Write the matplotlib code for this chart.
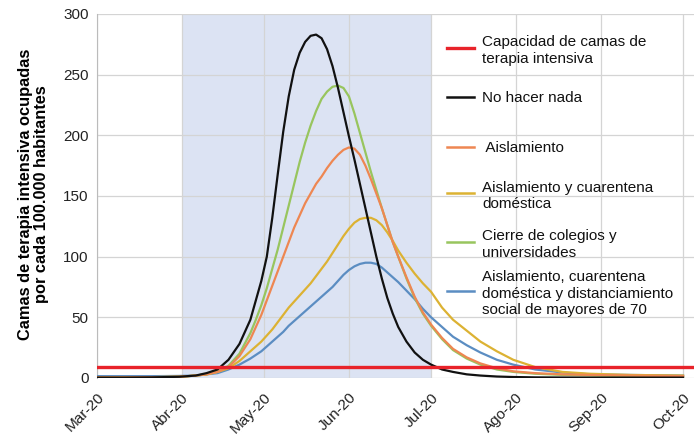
import pandas as pd
import matplotlib.pyplot as plt

plt.rcParams['font.family'] = ['Liberation Sans', 'DejaVu Sans']

# days after 1 March 2020
days = [0, 10, 20, 30, 36, 40, 44, 48, 52, 56, 58, 60, 62, 64, 66, 68, 70, 72, 74, 76,
        78, 80, 82, 84, 86, 88, 90, 92, 94, 96, 98, 100, 102, 104, 106, 108, 110, 113, 116, 119,
        122, 126, 130, 135, 140, 146, 152, 160, 170, 180, 195, 214]

no_hacer_nada = [0.3, 0.3, 0.5, 1, 2, 4, 7, 15, 28, 48, 64, 80, 100, 132, 168, 203, 232, 254, 268, 277,
                 282, 283, 280, 271, 257, 239, 219, 199, 180, 160, 140, 120, 100, 82, 66, 53, 42, 30, 21, 15,
                 11, 7, 5, 3, 2, 1.2, 0.8, 0.5, 0.4, 0.3, 0.3, 0.3]
aislamiento = [0.5, 0.5, 0.7, 1, 2, 3, 5, 9, 18, 32, 42, 52, 64, 76, 88, 100, 112, 124, 134, 144,
               152, 160, 166, 173, 179, 184, 188, 190, 189, 184, 175, 164, 152, 140, 126, 112, 100, 83, 67, 54,
               44, 33, 24, 17, 12, 8, 5.5, 4, 3, 2.5, 2, 1.5]
cuarentena = [0.5, 0.5, 0.7, 1, 2, 3, 5, 8, 14, 22, 26, 30, 35, 40, 46, 52, 58, 63, 68, 73,
              78, 84, 90, 96, 103, 110, 117, 123, 128, 131, 132, 132, 130, 126, 120, 113, 105, 95, 86, 78,
              71, 58, 48, 39, 30, 22, 15, 9, 5, 3.5, 2.5, 2]
cierre_colegios = [0.5, 0.5, 0.7, 1, 2, 3, 5, 10, 20, 37, 48, 60, 74, 90, 106, 124, 142, 160, 178, 194,
                   208, 220, 230, 236, 240, 241, 239, 232, 218, 202, 186, 170, 155, 140, 126, 112, 100, 82, 66, 53,
                   43, 32, 23, 16, 11, 7, 5, 3.5, 2.5, 2, 1.5, 1]
distanciamiento = [1.5, 1.5, 1.5, 1.7, 2, 3, 4, 7, 11, 16, 19, 22, 26, 30, 34, 38, 43, 47, 51, 55,
                   59, 63, 67, 71, 75, 80, 85, 89, 92, 94, 95, 95, 94, 91, 87, 83, 79, 72, 65, 57,
                   50, 42, 34, 27, 21, 15, 11, 7, 4.5, 3, 2.5, 2]
capacidad = 9

month_labels = ['Mar-20', 'Abr-20', 'May-20', 'Jun-20', 'Jul-20', 'Ago-20', 'Sep-20', 'Oct-20']
month_starts = pd.date_range('2020-03-01', '2020-10-01', freq='MS')

dates = pd.Timestamp('2020-03-01') + pd.to_timedelta(days, unit='D')

series = [
    ('Capacidad de camas de\nterapia intensiva', None, '#e8232a'),
    ('No hacer nada', no_hacer_nada, '#111111'),
    (' Aislamiento', aislamiento, '#ee8752'),
    ('Aislamiento y cuarentena\ndoméstica', cuarentena, '#dcb233'),
    ('Cierre de colegios y\nuniversidades', cierre_colegios, '#98c55e'),
    ('Aislamiento, cuarentena\ndoméstica y distanciamiento\nsocial de mayores de 70', distanciamiento, '#5b8dc2'),
]

fig = plt.figure(figsize=(6.94, 4.45), dpi=100)
ax = fig.add_axes([0.1398, 0.1506, 0.8602, 0.818])

ax.axvspan(pd.Timestamp('2020-04-01'), pd.Timestamp('2020-07-01'), color='#dce3f3', zorder=0, lw=0)

ax.axhline(capacidad, color='#e8232a', lw=2.4, zorder=5)
for label, vals, col in series[1:][::-1]:
    ax.plot(dates, vals, color=col, lw=1.6, zorder=3)

# a few spare days on the right so the last tick label fits
ax.set_xlim(pd.Timestamp('2020-03-01'), pd.Timestamp('2020-10-05'))
ax.set_ylim(0, 300)
ax.set_yticks([0, 50, 100, 150, 200, 250, 300])
ax.set_xticks(month_starts)
ax.set_xticklabels(month_labels, rotation=45, ha='right', rotation_mode='anchor')

ax.grid(True, color='#d4d4d4', lw=0.9)
ax.set_axisbelow(True)
ax.tick_params(axis='both', length=0, labelsize=11, colors='#222222')
ax.tick_params(axis='y', pad=6)
ax.tick_params(axis='x', pad=9)
for s in ['top', 'right', 'bottom']:
    ax.spines[s].set_visible(False)
ax.spines['left'].set_color('#bbbbbb')

ax.set_ylabel('Camas de terapia intensiva ocupadas\npor cada 100.000 habitantes',
              fontsize=11.8, fontweight='bold', linespacing=1.1)
ax.yaxis.set_label_coords(-0.08, 0.505)

# legend, drawn by hand so the handle sits on the first text line
leg_y = [0.907, 0.772, 0.635, 0.508, 0.374, 0.239]
for (label, vals, col), y in zip(series, leg_y):
    ax.plot([0.586, 0.632], [y, y], color=col, lw=2.4 if vals is None else 1.8,
            transform=ax.transAxes, zorder=6)
    ax.text(0.645, y, label, transform=ax.transAxes, fontsize=11, va='center_baseline',
            ha='left', color='#111111', linespacing=1.2, zorder=6)

fig.savefig('out.png', dpi=100)
